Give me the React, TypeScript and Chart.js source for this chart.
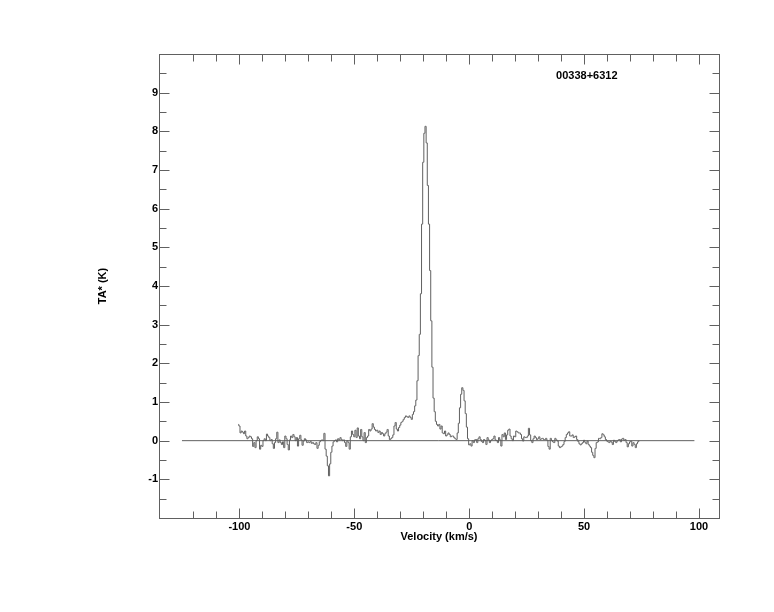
import { useEffect, useRef } from 'react';
import { Chart, registerables } from 'chart.js';

Chart.register(...registerables);

// ---- Data -----------------------------------------------------------------
// Spectrum channels: velocity of first channel and channel width (km/s)
const VEL_START = -100.5;
const VEL_STEP = 0.5;

// Antenna temperature TA* (K), one value per channel
const taValues: number[] = [
  0.42, 0.38, 0.2, 0.25, 0.22, 0.18, 0.25, 0.12, 0.05, 0.08,
  0.12, 0.1, 0.05, -0.15, -0.05, -0.18, 0.0, 0.1, 0.05, -0.22,
  -0.12, -0.15, 0.0, 0.05, 0.0, 0.17, 0.12, 0.08, 0.0, 0.03,
  -0.08, -0.2, -0.05, 0.05, 0.22, -0.05, 0.02, -0.05, -0.1, -0.03,
  -0.18, 0.12, 0.05, -0.1, -0.24, 0.02, 0.12, 0.08, 0.16, 0.1,
  0.0, 0.08, -0.14, 0.05, 0.14, 0.02, -0.12, -0.01, 0.05, 0.02,
  -0.05, -0.03, -0.05, -0.02, -0.07, -0.05, -0.08, -0.1, -0.05, -0.2,
  -0.12, -0.03, 0.0, 0.02, 0.0, 0.19, -0.22, -0.4, -0.65, -0.91,
  -0.6, -0.3, -0.14, -0.03, 0.0, 0.02, -0.03, 0.05, 0.02, 0.08,
  0.03, 0.0, 0.02, -0.05, -0.15, 0.0, -0.05, -0.22, 0.1, 0.25,
  0.16, 0.1, 0.27, 0.08, 0.33, 0.12, 0.05, 0.29, 0.1, 0.0,
  0.21, -0.05, 0.08, 0.12, 0.29, 0.25, 0.3, 0.44, 0.35, 0.29,
  0.25, 0.27, 0.21, 0.25, 0.16, 0.21, 0.18, 0.12, 0.18, 0.22,
  0.29, 0.12, 0.03, 0.05, 0.08, 0.15, 0.38, 0.47, 0.3, 0.25,
  0.34, 0.4, 0.47, 0.5, 0.55, 0.6, 0.64, 0.62, 0.6, 0.64,
  0.6, 0.55, 0.68, 0.75, 0.9, 1.05, 1.55, 2.2, 2.75, 3.8,
  5.6, 7.2, 7.95, 8.13, 7.7, 6.6, 5.6, 4.4, 3.1, 1.9,
  1.1, 0.75, 0.5, 0.42, 0.38, 0.42, 0.3, 0.38, 0.2, 0.18,
  0.25, 0.12, 0.15, 0.2, 0.16, 0.1, 0.12, 0.12, 0.08, 0.05,
  0.03, 0.2, 0.45, 0.85, 1.2, 1.37, 1.3, 1.03, 0.7, 0.35,
  0.05, -0.11, -0.08, -0.14, 0.0, -0.05, 0.02, 0.03, -0.05, 0.05,
  0.1, 0.03, -0.02, -0.05, 0.03, 0.0, -0.1, 0.08, 0.02, -0.05,
  0.0, 0.03, 0.05, 0.12, 0.02, 0.0, -0.05, 0.08, 0.02, -0.14,
  0.16, 0.1, 0.2, 0.03, 0.15, 0.27, 0.3, 0.12, 0.05, 0.0,
  0.12, 0.1, 0.25, 0.23, 0.2, 0.2, 0.16, 0.05, -0.01, 0.1,
  0.08, 0.08, 0.12, 0.32, 0.15, 0.0, -0.05, 0.05, 0.12, 0.08,
  0.03, 0.05, 0.1, 0.03, 0.05, 0.06, 0.03, 0.03, 0.06, 0.01,
  -0.15, -0.22, 0.06, 0.0, -0.03, -0.05, 0.06, 0.02, -0.01, -0.14,
  -0.18, -0.16, -0.14, -0.1, -0.02, 0.08, 0.16, 0.2, 0.23, 0.12,
  0.12, 0.15, 0.08, 0.1, 0.12, 0.03, -0.02, -0.08, -0.11, -0.08,
  -0.05, 0.01, -0.04, -0.08, -0.01, -0.1, -0.14, -0.18, -0.3, -0.38,
  -0.44, -0.2, -0.05, -0.03, 0.06, 0.05, 0.08, 0.18, 0.15, 0.1,
  0.03, -0.01, -0.03, -0.05, -0.01, -0.04, -0.1, 0.01, -0.02, -0.05,
  -0.01, 0.02, 0.03, -0.03, 0.04, 0.06, 0.01, 0.03, -0.05, -0.16,
  -0.08, -0.03, -0.01, -0.14, -0.05, -0.1, -0.18, -0.08, -0.03, 0.0,
];

// Zero baseline
const baselineVel = [-125, 98];
const baselineTa = [0, 0];

// Axis ticks
const xLabelTicks = [-100, -50, 0, 50, 100];
const xMinorTicks = [-120, -110, -90, -80, -70, -60, -40, -30, -20, -10, 10, 20, 30, 40, 60, 70, 80, 90];
const yLabelTicks = [-1, 0, 1, 2, 3, 4, 5, 6, 7, 8, 9];
const yMinorTicks = [-1.5, -0.5, 0.5, 1.5, 2.5, 3.5, 4.5, 5.5, 6.5, 7.5, 8.5, 9.5];

const sourceName = '00338+6312';
const xTitle = 'Velocity (km/s)';
const yTitle = 'TA* (K)';

// ---- Layout / style -------------------------------------------------------
const X_MIN = -135;
const X_MAX = 108.7;
const Y_MIN = -2;
const Y_MAX = 10;
const NAME_VEL = 37.8;
const NAME_TA = 9.44;
const W = 774;
const H = 612;
const LINE_COLOR = '#606060';
const FONT_FAMILY = '"Liberation Sans", Arial, Helvetica, sans-serif';
const MAJOR_LEN = 10;
const MINOR_LEN = 7;

const framePlugin = {
  id: 'frameTicks',
  afterDraw(chart: any) {
    const { ctx, chartArea: a, scales } = chart;
    const xs = scales.x;
    const ys = scales.y;
    ctx.save();
    ctx.strokeStyle = LINE_COLOR;
    ctx.lineWidth = 1;
    ctx.strokeRect(a.left + 0.5, a.top + 0.5, a.right - a.left, a.bottom - a.top);
    ctx.beginPath();
    const xTick = (v: number, len: number) => {
      const px = Math.round(xs.getPixelForValue(v)) + 0.5;
      ctx.moveTo(px, a.bottom + 0.5);
      ctx.lineTo(px, a.bottom + 0.5 - len);
      ctx.moveTo(px, a.top + 0.5);
      ctx.lineTo(px, a.top + 0.5 + len);
    };
    const yTick = (v: number, len: number) => {
      const py = Math.round(ys.getPixelForValue(v)) + 0.5;
      ctx.moveTo(a.left + 0.5, py);
      ctx.lineTo(a.left + 0.5 + len, py);
      ctx.moveTo(a.right + 0.5, py);
      ctx.lineTo(a.right + 0.5 - len, py);
    };
    xLabelTicks.forEach((v) => xTick(v, MAJOR_LEN));
    xMinorTicks.forEach((v) => xTick(v, MINOR_LEN));
    yLabelTicks.forEach((v) => yTick(v, MAJOR_LEN));
    yMinorTicks.forEach((v) => yTick(v, MINOR_LEN));
    ctx.stroke();

    ctx.fillStyle = '#000';
    ctx.font = `bold 11px ${FONT_FAMILY}`;
    ctx.textAlign = 'left';
    ctx.textBaseline = 'middle';
    ctx.fillText(sourceName, xs.getPixelForValue(NAME_VEL), ys.getPixelForValue(NAME_TA));
    ctx.restore();
  },
};

export default function App() {
  const canvasRef = useRef<HTMLCanvasElement | null>(null);

  useEffect(() => {
    const canvas = canvasRef.current;
    if (!canvas) return;
    const spectrum = taValues.map((t, i) => ({ x: VEL_START + i * VEL_STEP, y: t }));
    const baseline = baselineVel.map((v, i) => ({ x: v, y: baselineTa[i] }));
    const font = { family: FONT_FAMILY, size: 11, weight: 'bold' as const };

    const chart = new Chart(canvas, {
      type: 'line',
      data: {
        datasets: [
          {
            data: spectrum,
            stepped: 'middle',
            borderColor: LINE_COLOR,
            borderWidth: 1,
            pointRadius: 0,
            fill: false,
          },
          {
            data: baseline,
            borderColor: LINE_COLOR,
            borderWidth: 1,
            pointRadius: 0,
            fill: false,
          },
        ],
      },
      options: {
        responsive: false,
        animation: false,
        events: [],
        layout: { padding: { left: 0, right: 55, top: 54, bottom: 0 } },
        plugins: { legend: { display: false }, tooltip: { enabled: false } },
        scales: {
          x: {
            type: 'linear',
            min: X_MIN,
            max: X_MAX,
            grid: { display: false, drawTicks: false },
            border: { display: false },
            afterBuildTicks: (s: any) => {
              s.ticks = xLabelTicks.map((v) => ({ value: v }));
            },
            afterFit: (s: any) => {
              s.height = 94;
            },
            ticks: {
              color: '#000',
              font,
              padding: 2,
              maxRotation: 0,
              autoSkip: false,
              callback: (v: any) => String(v),
            },
            title: {
              display: true,
              text: xTitle,
              color: '#000',
              font,
              padding: { top: 0, bottom: 68 },
            },
          },
          y: {
            type: 'linear',
            min: Y_MIN,
            max: Y_MAX,
            grid: { display: false, drawTicks: false },
            border: { display: false },
            afterBuildTicks: (s: any) => {
              s.ticks = yLabelTicks.map((v) => ({ value: v }));
            },
            afterFit: (s: any) => {
              s.width = 159;
            },
            ticks: {
              color: '#000',
              font,
              padding: 1,
              autoSkip: false,
              callback: (v: any) => String(v),
            },
            title: {
              display: true,
              text: yTitle,
              color: '#000',
              font,
              padding: { top: 96, bottom: 0 },
            },
          },
        },
      },
      plugins: [framePlugin],
    });

    return () => chart.destroy();
  }, []);

  return (
    <div style={{ position: 'absolute', left: 0, top: 0, width: W, height: H, background: '#fff' }}>
      <canvas ref={canvasRef} width={W} height={H} />
    </div>
  );
}
